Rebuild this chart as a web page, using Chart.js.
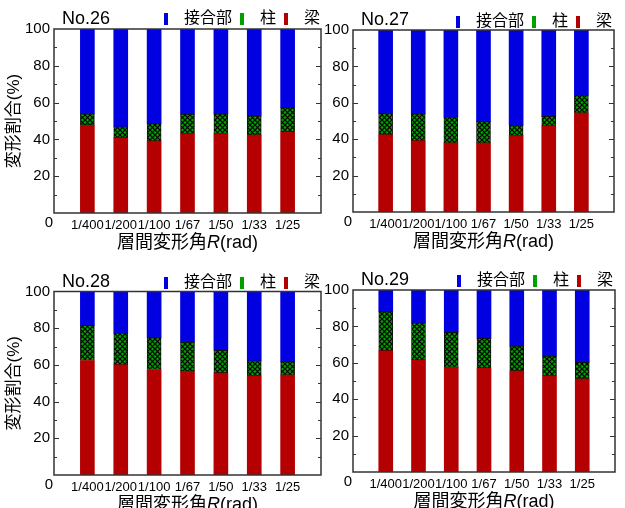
<!DOCTYPE html>
<html>
<head>
<meta charset="utf-8">
<script src="https://cdn.jsdelivr.net/npm/chart.js@4"></script>
<style>
  body { margin: 0; background: #fff; width: 625px; height: 508px; overflow: hidden; position: relative; }
  .panel { position: absolute; }
</style>
</head>
<body>
<div class="panel" style="left:0;top:0"><canvas id="c26"></canvas></div>
<div class="panel" style="left:312px;top:0"><canvas id="c27"></canvas></div>
<div class="panel" style="left:0;top:254px"><canvas id="c28"></canvas></div>
<div class="panel" style="left:312px;top:254px"><canvas id="c29"></canvas></div>
<script>
// drift angle categories
const xLabels = ['1/400', '1/200', '1/100', '1/67', '1/50', '1/33', '1/25'];
const yTicks = [0, 20, 40, 60, 80, 100];

// share of deformation (%) : beam / column / joint
const no26Beam   = [47.7, 40.9, 39.1, 43.1, 43.1, 42.3, 44.0];
const no26Column = [6.2, 5.9, 9.5, 10.6, 10.8, 10.5, 13.3];
const no26Joint  = [46.1, 53.2, 51.4, 46.3, 46.1, 47.2, 42.7];

const no27Beam   = [42.4, 39.1, 37.8, 37.8, 42.0, 47.3, 54.3];
const no27Column = [11.9, 14.8, 14.3, 11.9, 5.7, 5.2, 9.9];
const no27Joint  = [45.7, 46.1, 47.9, 50.3, 52.3, 47.5, 35.8];

const no28Beam   = [62.4, 60.0, 57.5, 56.5, 55.6, 54.0, 54.4];
const no28Column = [19.1, 17.3, 17.4, 15.9, 12.4, 8.2, 7.4];
const no28Joint  = [18.5, 22.7, 25.1, 27.6, 32.0, 37.8, 38.2];

const no29Beam   = [66.6, 61.5, 57.5, 57.1, 55.5, 52.9, 51.1];
const no29Column = [21.5, 20.4, 19.3, 16.3, 13.7, 10.8, 9.1];
const no29Joint  = [11.9, 18.1, 23.2, 26.6, 30.8, 36.3, 39.8];

const FONT = "'Liberation Sans', 'Noto Sans CJK JP', sans-serif";
const RED = '#b40000', GREEN = '#00a000', BLUE = '#0000e0';

Chart.defaults.font.family = FONT;
Chart.defaults.color = '#000';

// black lattice over green for the column part
function hatch() {
  const c = document.createElement('canvas');
  c.width = 5; c.height = 5;
  const g = c.getContext('2d');
  g.fillStyle = GREEN;
  g.fillRect(0, 0, 5, 5);
  g.strokeStyle = '#000';
  g.lineWidth = 1.2;
  g.beginPath();
  g.moveTo(0, 0); g.lineTo(5, 5);
  g.moveTo(0, 5); g.lineTo(5, 0);
  g.stroke();
  return g.createPattern(c, 'repeat');
}

// thin upright legend marker
function marker(color) {
  const c = document.createElement('canvas');
  c.width = 18; c.height = 12;
  const g = c.getContext('2d');
  g.fillStyle = color;
  g.fillRect(6, 0, 4, 12);
  return c;
}
const markers = [marker(RED), marker(GREEN), marker(BLUE)];

function makeChart(p) {
  const canvas = document.getElementById(p.id);
  canvas.width = p.w;
  canvas.height = p.h;
  const pts = arr => arr.map((v, i) => ({ x: i + 1, y: v }));

  const legendFix = {
    id: 'legendFix',
    afterInit(chart) {
      const lg = chart.legend;
      const fit = lg.fit;
      lg.fit = function () { fit.call(this); this.height = p.legendH; };
    }
  };

  const frame = {
    id: 'frame',
    afterDraw(chart) {
      const { ctx, chartArea: a, scales: { y } } = chart;
      ctx.save();
      ctx.strokeStyle = '#333';
      ctx.lineWidth = 1.5;
      ctx.strokeRect(a.left, a.top, a.width, a.height);
      ctx.lineWidth = 1;
      ctx.beginPath();
      for (let v = 10; v < 100; v += 10) {
        const py = Math.round(y.getPixelForValue(v)) + 0.5;
        const len = v % 20 === 0 ? 5 : 3;
        ctx.moveTo(a.left, py); ctx.lineTo(a.left + len, py);
        ctx.moveTo(a.right, py); ctx.lineTo(a.right - len, py);
      }
      ctx.stroke();

      ctx.fillStyle = '#000';
      ctx.font = '15px ' + FONT;
      ctx.textAlign = 'right';
      ctx.textBaseline = 'middle';
      ctx.fillText(String(yTicks[0]), a.left - 1, y.getPixelForValue(0) + 10);

      ctx.textAlign = 'left';
      ctx.textBaseline = 'alphabetic';
      ctx.font = '18px ' + FONT;
      ctx.fillText(p.title, a.left + 8, a.top - 5);

      // x axis title with italic R
      const parts = [['層間変形角', '18px ' + FONT], ['R', 'italic 18px ' + FONT], ['(rad)', '18px ' + FONT]];
      let total = 0;
      parts.forEach(([t, f]) => { ctx.font = f; total += ctx.measureText(t).width; });
      let x = (a.left + a.right) / 2 - total / 2;
      parts.forEach(([t, f]) => {
        ctx.font = f;
        ctx.fillText(t, x, a.bottom + 35);
        x += ctx.measureText(t).width;
      });
      ctx.restore();
    }
  };

  new Chart(canvas, {
    type: 'bar',
    data: {
      datasets: [
        { label: '梁', data: pts(p.beam), backgroundColor: RED },
        { label: '柱', data: pts(p.column), backgroundColor: hatch(), borderColor: '#111', borderWidth: 1, borderSkipped: false },
        { label: '接合部', data: pts(p.joint), backgroundColor: BLUE }
      ]
    },
    options: {
      responsive: false,
      animation: false,
      layout: { padding: { left: 0, right: p.w - p.right, top: p.legendTop, bottom: 0 } },
      datasets: { bar: { barThickness: 14 } },
      scales: {
        x: {
          type: 'linear', min: 0, max: 8, stacked: true, offset: false,
          grid: { display: false, drawTicks: false }, border: { display: false },
          ticks: { stepSize: 1, autoSkip: false, maxRotation: 0, padding: 5, font: { size: 13 },
                   callback: v => xLabels[v - 1] || '' },
          afterFit: s => { s.height = p.h - p.bottom; }
        },
        y: {
          min: 0, max: 100, stacked: true,
          grid: { display: false, drawTicks: false }, border: { display: false },
          ticks: { stepSize: 20, padding: 4, font: { size: 15 }, callback: v => v === 0 ? '' : v },
          title: { display: p.yTitle, text: '変形割合(%)', font: { size: 17 }, padding: { top: 4, bottom: 0 } },
          afterFit: s => { s.width = p.left; }
        }
      },
      plugins: {
        tooltip: { enabled: false },
        legend: {
          position: 'top', align: 'end', reverse: true,
          labels: {
            usePointStyle: true, pointStyleWidth: 18, boxHeight: 12, padding: 2,
            font: { size: 16 },
            generateLabels: chart => Chart.defaults.plugins.legend.labels.generateLabels(chart)
              .map(item => ({ ...item, pointStyle: markers[item.datasetIndex] }))
          }
        }
      }
    },
    plugins: [legendFix, frame]
  });
}

makeChart({ id: 'c26', title: 'No.26', beam: no26Beam, column: no26Column, joint: no26Joint,
  w: 326, h: 254, left: 54, right: 322, bottom: 213, legendTop: 9, legendH: 20, yTitle: true });
makeChart({ id: 'c27', title: 'No.27', beam: no27Beam, column: no27Column, joint: no27Joint,
  w: 313, h: 254, left: 41, right: 302, bottom: 212, legendTop: 12, legendH: 18, yTitle: false });
makeChart({ id: 'c28', title: 'No.28', beam: no28Beam, column: no28Column, joint: no28Joint,
  w: 326, h: 254, left: 54, right: 322, bottom: 221, legendTop: 18.5, legendH: 19, yTitle: true });
makeChart({ id: 'c29', title: 'No.29', beam: no29Beam, column: no29Column, joint: no29Joint,
  w: 313, h: 254, left: 41, right: 303, bottom: 218, legendTop: 17, legendH: 19, yTitle: false });
</script>
</body>
</html>
